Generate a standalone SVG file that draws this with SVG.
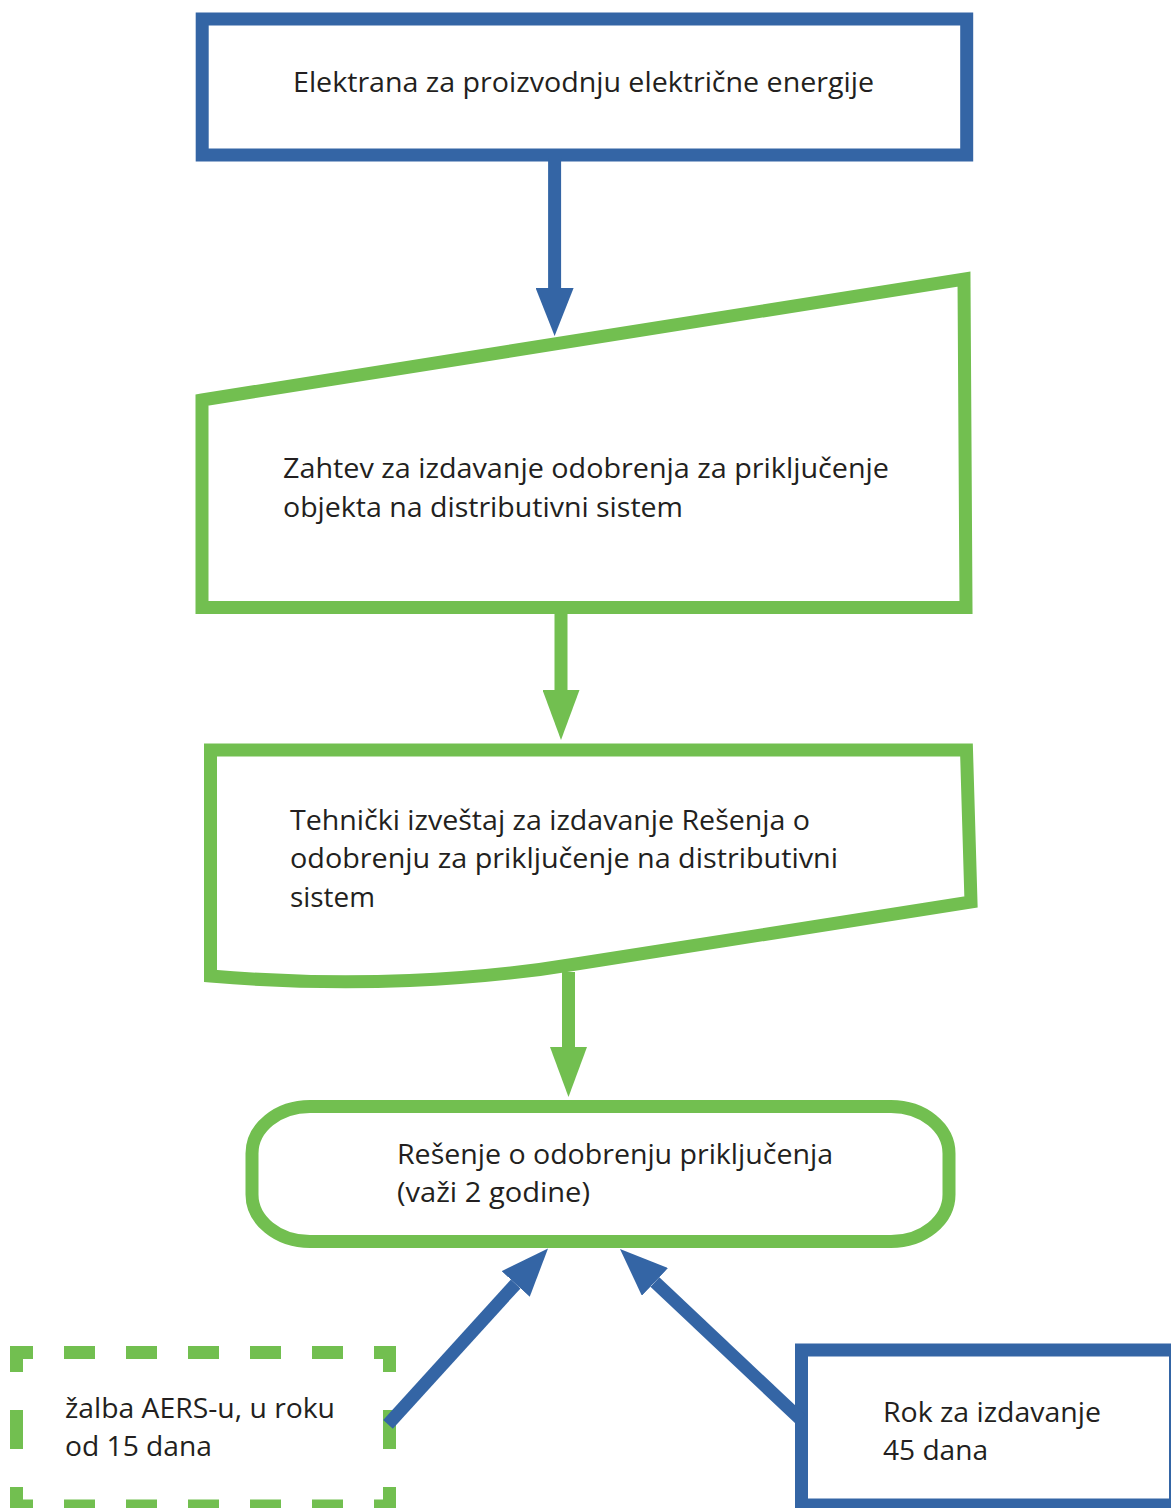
<svg xmlns="http://www.w3.org/2000/svg" width="1171" height="1508" viewBox="0 0 1171 1508">
<style>
.blue{fill:#fff;stroke:#3465A5;stroke-width:13}
.green{fill:#fff;stroke:#72BF50;stroke-width:13}
.dash{fill:none;stroke:#72BF50;stroke-width:13}
.cb{stroke:#3465A5;stroke-width:13;fill:none}
.cg{stroke:#72BF50;stroke-width:13;fill:none}
text{font-family:"Open Sans","Liberation Sans",sans-serif;font-size:28px;fill:#231F20}
</style>
<defs>
<marker id="hb" markerUnits="userSpaceOnUse" viewBox="0 -19 48 38" refX="0" refY="0" markerWidth="48" markerHeight="38" orient="auto"><path d="M0,-19 L48,0 L0,19 Z" fill="#3465A5"/></marker>
<marker id="hg" markerUnits="userSpaceOnUse" viewBox="0 -18.5 50 37" refX="0" refY="0" markerWidth="50" markerHeight="37" orient="auto"><path d="M0,-18.5 L50,0 L0,18.5 Z" fill="#72BF50"/></marker>
</defs>
<rect width="1171" height="1508" fill="#fff"/>
<g id="node-elektrana">
<rect class="blue" x="202.2" y="19" width="764.5" height="136"/>
<text x="293" y="92" textLength="581" lengthAdjust="spacingAndGlyphs">Elektrana za proizvodnju električne energije</text>
</g>
<g id="node-zahtev">
<path class="green" d="M202,400 L964,279 L966,607.5 L202,607.5 Z"/>
<text x="283" y="478" textLength="606" lengthAdjust="spacingAndGlyphs">Zahtev za izdavanje odobrenja za priključenje</text>
<text x="283" y="517" textLength="400" lengthAdjust="spacingAndGlyphs">objekta na distributivni sistem</text>
</g>
<g id="node-izvestaj">
<path class="green" d="M210.5,750 L966.5,750 L971,902 L576,964 C480,980 350,988 210.5,976 Z"/>
<text x="290" y="830" textLength="520" lengthAdjust="spacingAndGlyphs">Tehnički izveštaj za izdavanje Rešenja o</text>
<text x="290" y="868" textLength="548" lengthAdjust="spacingAndGlyphs">odobrenju za priključenje na distributivni</text>
<text x="290" y="907" textLength="85" lengthAdjust="spacingAndGlyphs">sistem</text>
</g>
<g id="node-resenje">
<rect class="green" x="252" y="1106.5" width="697" height="135" rx="58" ry="47"/>
<text x="397" y="1164" textLength="436" lengthAdjust="spacingAndGlyphs">Rešenje o odobrenju priključenja</text>
<text x="397" y="1202" textLength="193" lengthAdjust="spacingAndGlyphs">(važi 2 godine)</text>
</g>
<g id="node-zalba">
<line class="dash" x1="10" y1="1352.5" x2="396" y2="1352.5" stroke-dasharray="31 31" stroke-dashoffset="8"/>
<line class="dash" x1="10" y1="1506" x2="396" y2="1506" stroke-dasharray="31 31" stroke-dashoffset="8"/>
<line class="dash" x1="16.5" y1="1346" x2="16.5" y2="1512" stroke-dasharray="39 38" stroke-dashoffset="13"/>
<line class="dash" x1="389.5" y1="1346" x2="389.5" y2="1512" stroke-dasharray="39 38" stroke-dashoffset="13"/>
<text x="65" y="1418" textLength="270" lengthAdjust="spacingAndGlyphs">žalba AERS-u, u roku</text>
<text x="65" y="1456" textLength="147" lengthAdjust="spacingAndGlyphs">od 15 dana</text>
</g>
<g id="node-rok">
<rect class="blue" x="801.5" y="1350" width="374" height="155"/>
<text x="883" y="1422" textLength="218" lengthAdjust="spacingAndGlyphs">Rok za izdavanje</text>
<text x="883" y="1460" textLength="105" lengthAdjust="spacingAndGlyphs">45 dana</text>
</g>
<g id="connectors">
<line class="cb" x1="554.6" y1="158" x2="554.6" y2="288" marker-end="url(#hb)"/>
<line class="cg" x1="561" y1="610" x2="561" y2="690" marker-end="url(#hg)"/>
<line class="cg" x1="568.5" y1="972" x2="568.5" y2="1047" marker-end="url(#hg)"/>
<line class="cb" x1="388" y1="1424.3" x2="515.7" y2="1284" marker-end="url(#hb)"/>
<line class="cb" x1="801" y1="1419.8" x2="654.9" y2="1281.9" marker-end="url(#hb)"/>
</g>
</svg>
